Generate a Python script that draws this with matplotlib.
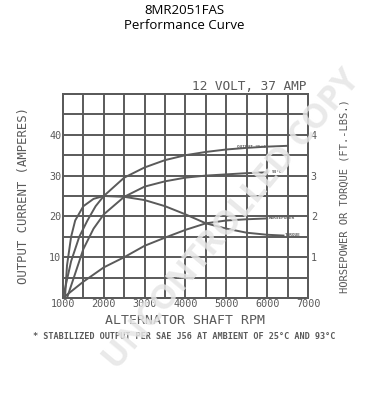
import numpy as np
import matplotlib
matplotlib.use("Agg")
import matplotlib.pyplot as plt

# ------------------------------------------------------------
# Data
# ------------------------------------------------------------
rpm_25c = [1000, 1200, 1400, 1600, 1800, 2000, 2500, 3000, 3500, 4000, 4500, 5000, 5500, 6000, 6500]
amps_25c = [0, 9, 15, 19, 22.5, 25, 29.5, 32, 33.8, 35, 35.8, 36.4, 36.8, 37.1, 37.3]

rpm_93c = [1100, 1300, 1500, 1750, 2000, 2500, 3000, 3500, 4000, 4500, 5000, 5500, 6000]
amps_93c = [0, 6, 12, 17, 20.5, 24.8, 27.3, 28.6, 29.5, 30, 30.3, 30.6, 30.8]

rpm_torque = [1050, 1100, 1200, 1300, 1500, 1750, 2000, 2500, 3000, 3500, 4000, 4500, 5000, 5500, 6000, 6400]
torque = [0, 0.8, 1.5, 1.9, 2.25, 2.43, 2.5, 2.48, 2.4, 2.25, 2.05, 1.83, 1.7, 1.6, 1.55, 1.53]

rpm_hp = [1000, 1500, 2000, 2500, 3000, 3500, 4000, 4500, 5000, 5500, 6000]
hp = [0, 0.4, 0.75, 1.0, 1.28, 1.48, 1.67, 1.83, 1.9, 1.93, 1.95]

x_ticks = [1000, 2000, 3000, 4000, 5000, 6000, 7000]
left_ticks = [10, 20, 30, 40]
right_ticks = [1, 2, 3, 4]

ink = "#5a5a5a"
mono = "DejaVu Sans Mono"

fig = plt.figure(figsize=(3.68, 4.0), dpi=100)
ax = fig.add_axes([0.171, 0.255, 0.666, 0.51])
ax2 = ax.twinx()

ax.set_xlim(1000, 7000)
ax.set_ylim(0, 50)
ax2.set_ylim(0, 5)

# grid every 500 rpm / 5 amps
for gx in np.arange(1000, 7001, 500):
    ax.axvline(gx, color=ink, lw=1.4, zorder=1)
for gy in np.arange(0, 51, 5):
    ax.axhline(gy, color=ink, lw=1.4, zorder=1)

ax.tick_params(which="both", length=0)
ax.set_xticks(x_ticks)
ax.set_xticklabels([str(t) for t in x_ticks], family=mono, fontsize=7.3, color=ink)
ax.set_yticks(left_ticks)
ax.set_yticklabels([str(t) for t in left_ticks], family=mono, fontsize=7.3, color=ink)
ax.tick_params(axis="x", pad=1)
ax.tick_params(axis="y", pad=1)
ax2.set_yticks(right_ticks)
ax2.set_yticklabels([str(t) for t in right_ticks], family=mono, fontsize=7.3, color=ink)
ax2.tick_params(length=0, pad=2)
for s in list(ax.spines.values()) + list(ax2.spines.values()):
    s.set_color(ink)
    s.set_linewidth(1.4)

# curves
ax.plot(rpm_25c, amps_25c, color=ink, lw=1.4)
ax.plot(rpm_93c, amps_93c, color=ink, lw=1.4)
ax2.plot(rpm_torque, torque, color=ink, lw=1.4)
ax2.plot(rpm_hp, hp, color=ink, lw=1.4)

# tiny curve labels
lab = dict(family=mono, fontsize=3.2, color=ink, fontweight="bold", va="center")
ax.text(5250, 37.0, "OUTPUT 25\u00b0C", **lab)
ax.text(6100, 30.9, "93\u00b0C", **lab)
ax2.text(6050, 1.95, "HORSEPOWER", **lab)
ax2.text(6420, 1.55, "TORQUE", **lab)

# labels
ax.set_xlabel("ALTERNATOR SHAFT RPM", family=mono, fontsize=9.5, color=ink, labelpad=3)
ax.set_ylabel("OUTPUT CURRENT (AMPERES)", family=mono, fontsize=8.8, color=ink, labelpad=14)
ax2.set_ylabel("HORSEPOWER OR TORQUE (FT.-LBS.)", family=mono, fontsize=7.5, color=ink, labelpad=16)

fig.text(0.5, 0.975, "8MR2051FAS", ha="center", va="center", family="Open Sans", fontsize=9.5)
fig.text(0.5, 0.937, "Performance Curve", ha="center", va="center", family="Open Sans", fontsize=9.5)
fig.text(0.522, 0.784, "12 VOLT, 37 AMP", ha="left", va="center", family=mono, fontsize=9.2, color=ink)
fig.text(0.5, 0.158, "* STABILIZED OUTPUT PER SAE J56 AT AMBIENT OF 25\u00b0C AND 93\u00b0C",
         ha="center", va="center", family=mono, fontsize=6.1, color=ink, fontweight="bold")

# watermark
fig.text(0.63, 0.45, "UNCONTROLLED COPY", ha="center", va="center", rotation=50,
         rotation_mode="anchor", family="Open Sans", fontweight="bold", fontsize=24.5,
         color="#e6e6e6", alpha=0.85, zorder=10)

fig.savefig("out.png", dpi=100)
